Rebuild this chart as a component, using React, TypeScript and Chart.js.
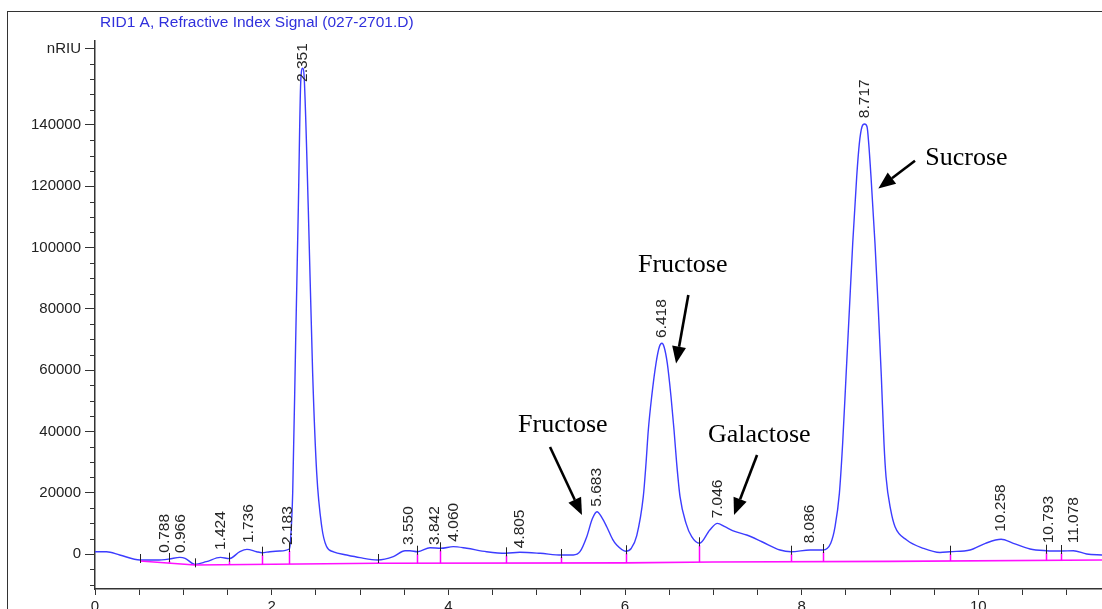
import React, { useEffect, useRef } from "react";
import { Chart, registerables } from "chart.js";

Chart.register(...registerables);

const TITLE = "RID1 A, Refractive Index Signal (027-2701.D)";
const Y_UNIT = "nRIU";

// Chromatogram trace (retention time, min ; signal, nRIU)
const times = [
  0.0, 0.13, 0.28, 0.51, 0.7, 0.84, 0.96, 1.02, 1.13, 1.26, 1.42, 1.52, 1.64, 1.72, 1.83, 1.89, 1.98, 2.09, 2.2,
  2.215, 2.238, 2.272, 2.302, 2.329, 2.351, 2.369, 2.414, 2.464, 2.51, 2.567, 2.62, 2.7, 2.85, 3.0, 3.2, 3.377,
  3.51, 3.566, 3.653, 3.793, 3.917, 4.056, 4.208, 4.434, 4.65, 4.81, 5.04, 5.28, 5.415, 5.49, 5.567, 5.63, 5.683,
  5.74, 5.793, 5.86, 5.906, 6.01, 6.07, 6.133, 6.207, 6.238, 6.264, 6.302, 6.351, 6.389, 6.418, 6.442, 6.479,
  6.521, 6.555, 6.585, 6.623, 6.691, 6.755, 6.844, 6.96, 7.046, 7.13, 7.25, 7.378, 7.55, 7.755, 7.88, 8.095, 8.24,
  8.329, 8.378, 8.427, 8.464, 8.502, 8.54, 8.578, 8.623, 8.653, 8.683, 8.712, 8.74, 8.759, 8.785, 8.83, 8.868,
  8.902, 8.932, 8.955, 9.008, 9.057, 9.189, 9.378, 9.566, 9.68, 9.906, 10.08, 10.258, 10.396, 10.585, 10.77,
  10.94, 11.076, 11.227, 11.4,
];
const signal = [
  750, 750, -330, -1960, -1960, -1630, -1090, -1400, -3370, -2500, -1090, -1520, 760, 1520, 750, 430, 750, 980, 1630,
  5000, 19900, 69800, 113300, 154000, 158500, 155000, 113300, 58960, 26330, 8900, 2500, 700, -330, -1200, -1960, -880,
  1080, 1080, 750, 2050, 1860, 2400, 1860, 750, 230, 550, 230, -330, -330, 750, 5650, 11500, 13800,
  11800, 8900, 4800, 2940, 900, 1800, 6000, 18700, 29600, 40460, 51330, 62220, 67640, 68750, 67640, 62220,
  51330, 40460, 29600, 18700, 10000, 5650, 3490, 7830, 10000, 8900, 7300, 6200, 4000, 1300, 750, 1300, 1300,
  3490, 8900, 19800, 36120, 57850, 79620, 101400, 123100, 134000, 139400, 140300, 139400, 134000, 123100, 101400, 79620,
  57850, 36120, 25220, 14360, 8900, 4570, 1860, 500, 750, 1300, 3490, 4800, 3490, 1630, 1080,
  980, 1080, 0, -330,
];

// Integration baseline
const baselineTimes = [0.51, 1.13, 3.2, 6.0, 7.0, 9.0, 11.4];
const baselineSignal = [-2280, -3590, -3030, -2900, -2600, -2400, -1960];

// Peak start / end markers
const markerTimes = [0.51, 0.84, 1.13, 1.52, 1.89, 2.2, 3.2, 3.64, 3.91, 4.65, 5.28, 6.01, 6.84, 7.88, 8.24, 9.68, 10.77, 10.94];
const markerSignal = [-1960, -1630, -3370, -1520, 430, 1630, -1960, 750, 1860, 230, -330, 900, 3490, 750, 1300, 750, 1080, 980];

// Peak retention-time labels
const peakTimes = [0.788, 0.966, 1.424, 1.736, 2.183, 2.351, 3.55, 3.842, 4.06, 4.805, 5.683, 6.418, 7.046, 8.086, 8.717, 10.258, 10.793, 11.078];
const peakLabelSignal = [-1200, -1300, -330, 1960, 1300, 152400, 1300, 1300, 2400, 230, 13800, 68850, 10000, 1860, 140600, 5650, 1860, 1860];

// Annotations
const noteTexts = ["Fructose", "Fructose", "Galactose", "Sucrose"];
const noteTimes = [4.789, 6.147, 6.94, 9.4];
const noteSignal = [39800, 92000, 36550, 126900];
const arrowFromTimes = [5.151, 6.717, 7.495, 9.283];
const arrowFromSignal = [34900, 84500, 32300, 128300];
const arrowToTimes = [5.513, 6.578, 7.234, 8.868];
const arrowToSignal = [12700, 62200, 12700, 119300];

// Axis ticks
const xTickValues = [0, 0.5, 1, 1.5, 2, 2.5, 3, 3.5, 4, 4.5, 5, 5.5, 6, 6.5, 7, 7.5, 8, 8.5, 9, 9.5, 10, 10.5, 11];
const xLabelValues = [0, 2, 4, 6, 8, 10];
const yMajorTicks = [0, 20000, 40000, 60000, 80000, 100000, 120000, 140000];
const yUnitTick = 165000;
const yMinorTicks = [
  -10000, -5000, 5000, 10000, 15000, 25000, 30000, 35000, 45000, 50000, 55000, 65000, 70000, 75000, 85000, 90000,
  95000, 105000, 110000, 115000, 125000, 130000, 135000, 145000, 150000, 155000, 160000,
];
const X_MIN = 0;
const X_MAX = 11.4;
const Y_MIN = -11420;
const Y_MAX = 167500;

const SANS = '"Liberation Sans", Arial, sans-serif';
const SERIF = '"Liberation Serif", "Times New Roman", serif';

function baselineAt(t: number): number {
  if (t <= baselineTimes[0]) return baselineSignal[0];
  for (let i = 1; i < baselineTimes.length; i++) {
    if (t <= baselineTimes[i]) {
      const f = (t - baselineTimes[i - 1]) / (baselineTimes[i] - baselineTimes[i - 1]);
      return baselineSignal[i - 1] + f * (baselineSignal[i] - baselineSignal[i - 1]);
    }
  }
  return baselineSignal[baselineSignal.length - 1];
}

const overlayPlugin = {
  id: "overlay",
  afterDatasetsDraw(chart: any) {
    const { ctx, chartArea } = chart;
    const x = chart.scales.x;
    const y = chart.scales.y;
    ctx.save();

    // title
    ctx.font = `15.5px ${SANS}`;
    ctx.fillStyle = "#3030dc";
    ctx.textAlign = "left";
    ctx.textBaseline = "middle";
    ctx.fillText(TITLE, chartArea.left + 5, 23);

    // minor y ticks
    ctx.strokeStyle = "#333";
    ctx.lineWidth = 1;
    for (const v of yMinorTicks) {
      const py = Math.round(y.getPixelForValue(v)) + 0.5;
      ctx.beginPath();
      ctx.moveTo(chartArea.left - 5, py);
      ctx.lineTo(chartArea.left, py);
      ctx.stroke();
    }

    // markers
    for (let i = 0; i < markerTimes.length; i++) {
      const px = Math.round(x.getPixelForValue(markerTimes[i])) + 0.5;
      const pc = y.getPixelForValue(markerSignal[i]);
      const pb = y.getPixelForValue(baselineAt(markerTimes[i]));
      if (pb > pc + 2) {
        ctx.strokeStyle = "#ff00ff";
        ctx.lineWidth = 1.5;
        ctx.beginPath();
        ctx.moveTo(px, pc + 2);
        ctx.lineTo(px, pb);
        ctx.stroke();
      }
      ctx.strokeStyle = "#222";
      ctx.lineWidth = 1;
      ctx.beginPath();
      ctx.moveTo(px, pc - 6);
      ctx.lineTo(px, pc + 3);
      ctx.stroke();
    }

    // peak labels
    ctx.font = `15.5px ${SANS}`;
    ctx.fillStyle = "#262626";
    ctx.textAlign = "left";
    ctx.textBaseline = "middle";
    for (let i = 0; i < peakTimes.length; i++) {
      const px = x.getPixelForValue(peakTimes[i]);
      const py = y.getPixelForValue(peakLabelSignal[i]);
      ctx.save();
      ctx.translate(px, py - 5);
      ctx.rotate(-Math.PI / 2);
      ctx.fillText(peakTimes[i].toFixed(3), 0, 0);
      ctx.restore();
    }

    // annotations
    ctx.font = `26px ${SERIF}`;
    ctx.fillStyle = "#000";
    ctx.textBaseline = "alphabetic";
    for (let i = 0; i < noteTexts.length; i++) {
      ctx.fillText(noteTexts[i], x.getPixelForValue(noteTimes[i]), y.getPixelForValue(noteSignal[i]));
    }

    // arrows
    for (let i = 0; i < arrowFromTimes.length; i++) {
      const ax = x.getPixelForValue(arrowFromTimes[i]);
      const ay = y.getPixelForValue(arrowFromSignal[i]);
      const bx = x.getPixelForValue(arrowToTimes[i]);
      const by = y.getPixelForValue(arrowToSignal[i]);
      const ang = Math.atan2(by - ay, bx - ax);
      const headLen = 17;
      const headW = 14;
      const sx = bx - headLen * Math.cos(ang);
      const sy = by - headLen * Math.sin(ang);
      ctx.strokeStyle = "#000";
      ctx.lineWidth = 2.6;
      ctx.beginPath();
      ctx.moveTo(ax, ay);
      ctx.lineTo(sx, sy);
      ctx.stroke();
      ctx.beginPath();
      ctx.moveTo(bx, by);
      ctx.lineTo(sx + (headW / 2) * Math.sin(ang), sy - (headW / 2) * Math.cos(ang));
      ctx.lineTo(sx - (headW / 2) * Math.sin(ang), sy + (headW / 2) * Math.cos(ang));
      ctx.closePath();
      ctx.fill();
    }

    ctx.restore();
  },
};

const CANVAS_W = 1102;
const CANVAS_H = 640;

export default function App() {
  const canvasRef = useRef<HTMLCanvasElement | null>(null);

  useEffect(() => {
    if (!canvasRef.current) return;
    const trace = times.map((t, i) => ({ x: t, y: signal[i] }));
    const base = baselineTimes.map((t, i) => ({ x: t, y: baselineSignal[i] }));
    const chart = new Chart(canvasRef.current, {
      type: "line",
      data: {
        datasets: [
          {
            data: base,
            borderColor: "#ff11ff",
            borderWidth: 1.6,
            pointRadius: 0,
            tension: 0,
            fill: false,
          },
          {
            data: trace,
            borderColor: "rgb(60,60,255)",
            borderWidth: 1.4,
            pointRadius: 0,
            cubicInterpolationMode: "monotone",
            fill: false,
          },
        ],
      },
      options: {
        animation: false,
        responsive: false,
        maintainAspectRatio: false,
        layout: { padding: { top: 40.7, left: 0, right: 0, bottom: 0 } },
        plugins: {
          legend: { display: false },
          tooltip: { enabled: false },
          title: { display: false },
        },
        scales: {
          x: {
            type: "linear",
            min: X_MIN,
            max: X_MAX,
            afterBuildTicks: (s: any) => {
              s.ticks = xTickValues.map((v) => ({ value: v }));
            },
            afterFit: (s: any) => {
              s.height = CANVAS_H - 589;
            },
            ticks: {
              autoSkip: false,
              maxRotation: 0,
              padding: 3,
              color: "#222",
              font: { family: SANS, size: 15 },
              callback: (v: any) => (xLabelValues.includes(Number(v)) ? String(v) : ""),
            },
            grid: { drawOnChartArea: false, drawTicks: true, tickLength: 6, color: "#333", lineWidth: 1 },
            border: { display: true, color: "#333", width: 1.5 },
          },
          y: {
            type: "linear",
            min: Y_MIN,
            max: Y_MAX,
            afterBuildTicks: (s: any) => {
              s.ticks = [...yMajorTicks, yUnitTick].map((v) => ({ value: v }));
            },
            afterFit: (s: any) => {
              s.width = 95;
            },
            ticks: {
              autoSkip: false,
              padding: 4,
              color: "#222",
              font: { family: SANS, size: 15 },
              callback: (v: any) => (Number(v) === yUnitTick ? Y_UNIT : String(v)),
            },
            grid: { drawOnChartArea: false, drawTicks: true, tickLength: 10, color: "#333", lineWidth: 1 },
            border: { display: true, color: "#333", width: 1.5 },
          },
        },
      },
      plugins: [overlayPlugin],
    } as any);
    return () => chart.destroy();
  }, []);

  return (
    <div
      style={{
        position: "fixed",
        left: 0,
        top: 0,
        width: 1102,
        height: 609,
        overflow: "hidden",
        background: "#fff",
      }}
    >
      <div
        style={{
          position: "absolute",
          left: 7,
          top: 11,
          width: 2000,
          height: 2000,
          borderLeft: "1.5px solid #333",
          borderTop: "1.5px solid #333",
        }}
      />
      <canvas
        ref={canvasRef}
        width={CANVAS_W}
        height={CANVAS_H}
        style={{ position: "absolute", left: 0, top: 0, width: CANVAS_W, height: CANVAS_H }}
      />
    </div>
  );
}
